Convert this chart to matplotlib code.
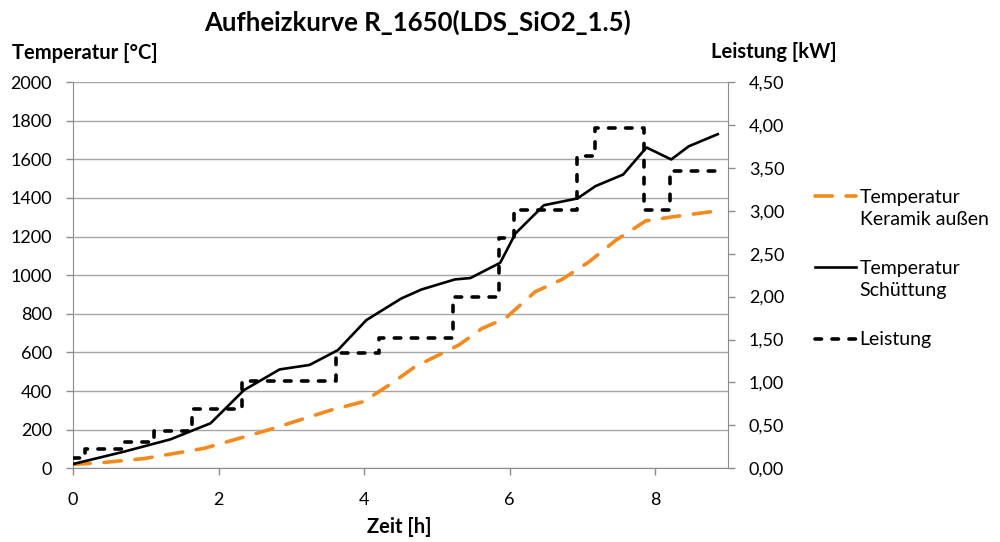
import matplotlib
matplotlib.use("Agg")
import matplotlib.pyplot as plt
from matplotlib.legend_handler import HandlerLine2D

plt.rcParams['font.family'] = ['Lato', 'DejaVu Sans']

# Temperatur Schüttung (black solid)
t_sch = [0.0, 0.70, 1.34, 1.89, 2.35, 2.84, 3.25, 3.64, 4.03, 4.51, 4.79, 5.25, 5.46, 5.87,
         6.08, 6.47, 6.93, 7.18, 7.56, 7.88, 8.22, 8.46, 8.86]
T_sch = [22, 86, 150, 233, 405, 512, 535, 612, 767, 879, 926, 978, 985, 1064,
         1216, 1362, 1397, 1461, 1521, 1661, 1599, 1667, 1730]

# Temperatur Keramik außen (orange dashed)
t_ker = [0.0, 0.42, 0.97, 1.80, 2.68, 3.55, 3.99, 4.38, 4.70, 5.30, 5.62, 5.94, 6.35,
         6.72, 7.09, 7.46, 7.87, 8.24, 8.86]
T_ker = [20, 30, 50, 103, 198, 302, 345, 440, 526, 638, 724, 776, 914,
         978, 1069, 1181, 1281, 1302, 1333]

# Leistung (black dashed, step)
t_p = [0.0, 0.17, 0.69, 1.11, 1.63, 2.32, 3.62, 4.20, 5.22, 5.86, 6.06, 6.92, 7.17, 7.84, 8.20, 8.93]
P_kw = [0.12, 0.22, 0.31, 0.43, 0.69, 1.02, 1.34, 1.52, 2.00, 2.68, 3.01, 3.64, 3.97, 3.01, 3.46, 3.46]

left_ticks = list(range(0, 2001, 200))
right_ticks = [0, 0.5, 1.0, 1.5, 2.0, 2.5, 3.0, 3.5, 4.0, 4.5]
x_ticks = [0, 2, 4, 6, 8]

ORANGE = '#F28A1E'
GRID = '#A6A6A6'
AX = '#8C8C8C'


class UpHandler(HandlerLine2D):
    """Legend handle aligned with the first text line."""
    def __init__(self, shift=0.0, **kw):
        super().__init__(**kw)
        self.shift = shift

    def create_artists(self, legend, orig_handle, xdescent, ydescent, width, height,
                       fontsize, trans):
        arts = super().create_artists(legend, orig_handle, xdescent, ydescent, width,
                                      height, fontsize, trans)
        for a in arts:
            a.set_ydata([y + self.shift * fontsize for y in a.get_ydata()])
        return arts


fig = plt.figure(figsize=(10, 5.42), dpi=100)
ax = fig.add_axes([0.073, 0.136, 0.655, 0.7127])
ax2 = ax.twinx()

l1, = ax.plot(t_ker, T_ker, color=ORANGE, lw=2.6, linestyle=(0, (4.8, 3.8)),
              dash_capstyle='round', label='Temperatur\nKeramik außen', zorder=3)
l2, = ax.plot(t_sch, T_sch, color='black', lw=1.9, label='Temperatur\nSchüttung', zorder=4)
l3, = ax2.plot(t_p, P_kw, color='black', lw=2.6, linestyle=(0, (1.8, 2.9)),
               dash_capstyle='round', drawstyle='steps-post', label='Leistung', zorder=5)

ax.set_xlim(0, 9)
ax.set_ylim(0, 2000)
ax2.set_ylim(0, 4.5)
ax.set_xticks(x_ticks)
ax.set_yticks(left_ticks)
ax2.set_yticks(right_ticks)
ax2.set_yticklabels([f"{v:.2f}".replace('.', ',') for v in right_ticks])

ax.grid(axis='y', color=GRID, lw=1)
ax.set_axisbelow(True)
for a in (ax, ax2):
    a.spines['top'].set_visible(False)
    a.spines['left'].set_color(AX)
    a.spines['right'].set_color(AX)
    a.spines['bottom'].set_color(AX)
    a.tick_params(colors=AX, labelcolor='black', labelsize=13, length=5, width=1)
ax2.spines['left'].set_visible(False)
ax2.spines['bottom'].set_visible(False)
ax.spines['right'].set_visible(False)
ax.tick_params(axis='x', pad=12)
ax.tick_params(axis='y', pad=10)
ax2.tick_params(axis='y', pad=10)

fig.text(0.418, 0.958, 'Aufheizkurve R_1650(LDS_SiO2_1.5)', ha='center', va='center',
         fontsize=18.5, fontweight='bold')
fig.text(0.012, 0.902, 'Temperatur [°C]', ha='left', va='center', fontsize=14.5, fontweight='bold')
fig.text(0.774, 0.904, 'Leistung [kW]', ha='center', va='center', fontsize=14.5, fontweight='bold')
fig.text(0.399, 0.028, 'Zeit [h]', ha='center', va='center', fontsize=14.5, fontweight='bold')

leg = ax2.legend(handles=[l1, l2, l3], loc='upper left', bbox_to_anchor=(0.807, 0.665),
                 bbox_transform=fig.transFigure, frameon=False, fontsize=14,
                 handlelength=2.1, handletextpad=0.2, labelspacing=1.65, borderaxespad=0,
                 handler_map={l1: UpHandler(shift=0.68), l2: UpHandler(shift=0.68)})
for t in leg.get_texts():
    t.set_linespacing(1.35)

fig.savefig('out.png', dpi=100)
